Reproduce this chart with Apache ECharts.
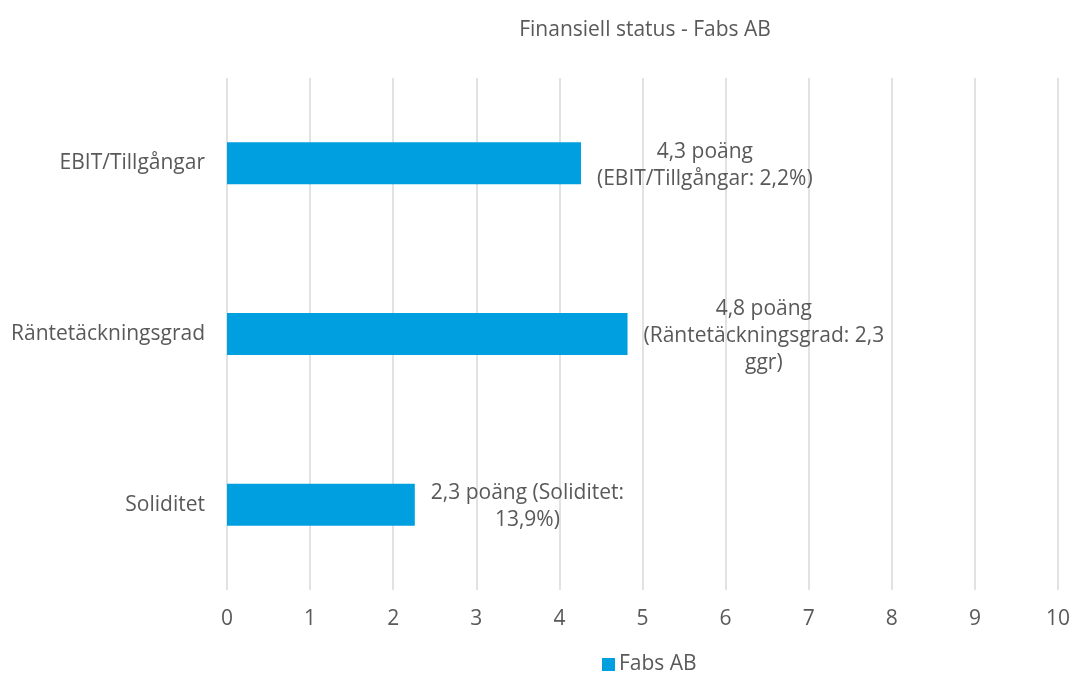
<!DOCTYPE html>
<html>
<head>
<meta charset="utf-8">
<script src="https://cdn.jsdelivr.net/npm/echarts@6/dist/echarts.min.js"></script>
<style>
  html, body { margin: 0; padding: 0; background: #fff; }
  #main { width: 1073px; height: 680px; }
</style>
</head>
<body>
<div id="main"></div>
<script>
// kategorier nerifrån och upp
var categories = ['Soliditet', 'Räntetäckningsgrad', 'EBIT/Tillgångar'];
var points = [2.26, 4.82, 4.26];
var labelTexts = [
  '2,3 poäng (Soliditet:\n13,9%)',
  '4,8 poäng\n(Räntetäckningsgrad: 2,3\nggr)',
  '4,3 poäng\n(EBIT/Tillgångar: 2,2%)'
];
var seriesName = 'Fabs AB';
var chartTitle = 'Finansiell status - Fabs AB';

var textColor = '#595959';
var font = '"Open Sans", "DejaVu Sans", sans-serif';

var myChart = echarts.init(document.getElementById('main'));
myChart.setOption({
  animation: false,
  title: {
    text: chartTitle,
    left: 640,
    top: 15,
    textAlign: 'center',
    textStyle: { color: textColor, fontSize: 21, fontWeight: 'normal', fontFamily: font }
  },
  legend: {
    data: [seriesName],
    bottom: 0,
    left: 597,
    itemWidth: 13,
    itemHeight: 13,
    itemGap: 6,
    icon: 'rect',
    textStyle: { color: textColor, fontSize: 21, fontFamily: font, padding: [0, 0, 0, -1] }
  },
  grid: {
    left: 227,
    right: 13,
    top: 78,
    bottom: 90
  },
  xAxis: {
    type: 'value',
    min: 0,
    max: 10,
    interval: 1,
    axisLine: { show: false },
    axisTick: { show: false },
    axisLabel: { color: textColor, fontSize: 21, fontFamily: font, margin: 19 },
    splitLine: { lineStyle: { color: '#d9d9d9', width: 1.5 } }
  },
  yAxis: {
    type: 'category',
    data: categories,
    axisLine: { show: false },
    axisTick: { show: false },
    axisLabel: { color: textColor, fontSize: 21, fontFamily: font, margin: 22 }
  },
  series: [{
    name: seriesName,
    type: 'bar',
    data: points,
    barWidth: 42,
    itemStyle: { color: '#009fdf' },
    label: {
      show: true,
      position: 'right',
      distance: 16,
      align: 'center',
      color: textColor,
      fontSize: 21,
      lineHeight: 27,
      fontFamily: font,
      formatter: function (p) { return labelTexts[p.dataIndex]; }
    },
    // centrera raderna men låt blocket börja vid stapelns slut
    labelLayout: function (params) {
      return { dx: params.labelRect.width / 2, dy: 2 };
    }
  }]
});
</script>
</body>
</html>
